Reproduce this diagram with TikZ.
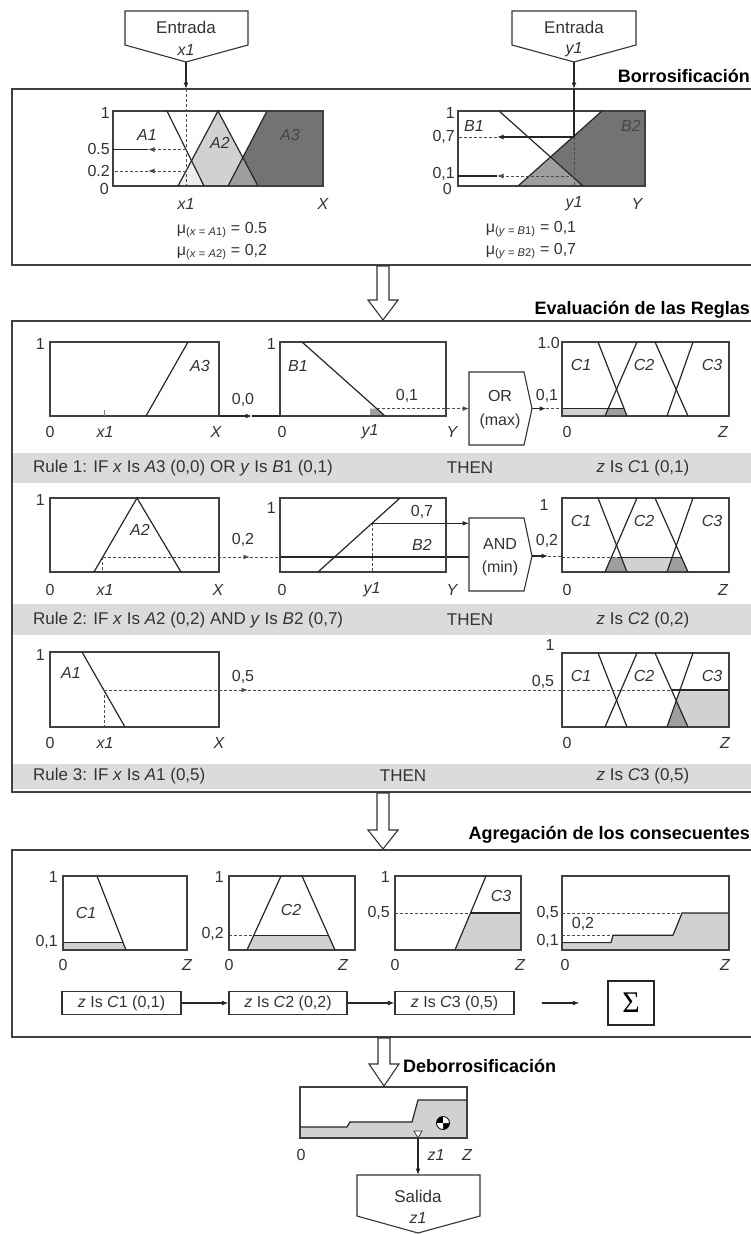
\documentclass[tikz,border=0pt]{standalone}
\usepackage{fontspec}
\setmainfont{Liberation Sans}
\newfontfamily\sigmafont{Liberation Serif}
\usepackage{tikz}
\usetikzlibrary{arrows.meta,positioning}
\definecolor{lightfill}{gray}{0.82}
\definecolor{palefill}{gray}{0.93}
\definecolor{midfill}{gray}{0.62}
\definecolor{darkfill}{gray}{0.45}
\definecolor{bandfill}{gray}{0.86}
\definecolor{ink}{gray}{0.2}

\begin{document}
\begin{tikzpicture}[x=1pt, y=-1pt,
    >={Latex[length=6.5pt,width=5pt]},
    lbl/.style ={font=\fontsize{16}{18}\selectfont, text=ink, inner sep=0pt},
    ilbl/.style={font=\fontsize{16}{18}\selectfont\itshape, text=ink, inner sep=0pt},
    rtxt/.style={font=\fontsize{17}{19}\selectfont, text=ink, inner sep=0pt},
    ttl/.style ={font=\fontsize{18}{20}\selectfont\bfseries, inner sep=0pt},
    panel/.style={draw=black!75, line width=1.3pt},
    gframe/.style={draw=black!75, line width=1.2pt},
    mline/.style={draw=black!85, line width=1.2pt},
    dline/.style={draw=black!70, line width=1pt, dash pattern=on 3pt off 2pt},
    flow/.style={draw=black!85, line width=1.2pt},
    shapeln/.style={draw=black!80, line width=1.1pt, fill=white},
    bigarrow/.style={draw=black!80, line width=1.1pt, fill=white},
    ruleband/.style={fill=bandfill},
    aggbox/.style={draw=black!80, line width=1.1pt, font=\fontsize{16}{18}\selectfont,
                   text=ink, minimum height=23pt, inner sep=0pt},
    sumbox/.style={draw=black!85, line width=1.2pt, minimum width=46pt, minimum height=44pt,
                   inner sep=0pt, font=\sigmafont\fontsize{30}{30}\selectfont}
]
\useasboundingbox (0,0) rectangle (751,1234);

% ---------- inputs ----------
\draw[shapeln] (125,11) -- (248,11) -- (248,45) -- (186,62) -- (125,45) -- cycle;
\node[rtxt] (entx)  at (186,27) {Entrada};
\node[ilbl] (entxv) at (186,50) {x1};
\coordinate (entxtip) at (186,62);
\coordinate (xtop) at (186,89);

\draw[shapeln] (512,11) -- (636,11) -- (636,45) -- (574,62) -- (512,45) -- cycle;
\node[rtxt] (enty)  at (574,27) {Entrada};
\node[ilbl] (entyv) at (574,50) {y1};
\coordinate (entytip) at (574,62);
\coordinate (ytop) at (574,89);

% ---------- Borrosificacion ----------
\draw[panel] (751,89) -- (12,89) -- (12,265) -- (751,265);
\node[ttl, anchor=base east] (t-fuzz) at (750,82) {Borrosificación};

% x fuzzy sets
\fill[lightfill] (178,186) -- (218,111) -- (258,186) -- cycle;
\fill[palefill]  (178,186) -- (191.5,160.7) -- (204,186) -- cycle;
\fill[darkfill]  (228,186) -- (267,111) -- (323,111) -- (323,186) -- cycle;
\fill[midfill]   (228,186) -- (242.8,157.5) -- (258,186) -- cycle;
\draw[gframe] (113,111) rectangle (323,186);
\draw[mline] (167,111) -- (204,186);
\draw[mline] (178,186) -- (218,111) -- (258,186);
\draw[mline] (228,186) -- (267,111);
\node[ilbl] (la1) at (147,135) {A1};
\node[ilbl] (la2) at (220,143) {A2};
\node[ilbl, text=black!72] (la3) at (290,135) {A3};
\node[lbl, anchor=east] (xone)  at (110,113) {1};
\node[lbl, anchor=east] (xhalf) at (110,149) {0.5};
\node[lbl, anchor=east] (xtwo)  at (110,171) {0.2};
\node[lbl, anchor=east] (xzero) at (109,189) {0};
\node[ilbl] (xx1) at (186,204) {x1};
\node[ilbl] (xX)  at (323,204) {X};

\coordinate (xa1) at (186,149.5);
\coordinate (xa2) at (186,171);
\coordinate (xbase) at (186,186);
\coordinate (xa1m) at (148,149.5);
\coordinate (xa2m) at (148,171);
\coordinate (xa1e) at (113,149.5);
\coordinate (xa2e) at (113,171);
\draw[flow,->] (entxtip) -- (xtop);
\draw[dline] (xtop) -- (xbase);
\draw[dline,->] (xa1) -- (xa1m);
\draw[flow] (xa1m) -- (xa1e);
\draw[dline,->] (xa2) -- (xa2m);
\draw[dline] (xa2m) -- (xa2e);

\node[lbl] (mux1) at (222,230) {μ\textsubscript{(\textit{x} = \textit{A}1)} = 0.5};
\node[lbl] (mux2) at (222,252) {μ\textsubscript{(\textit{x} = \textit{A}2)} = 0,2};

% y fuzzy sets
\fill[darkfill] (518,186) -- (602,111) -- (645,111) -- (645,186) -- cycle;
\fill[midfill]  (518,186) -- (550.5,157) -- (583,186) -- cycle;
\draw[gframe] (458,111) rectangle (645,186);
\draw[mline] (499,111) -- (583,186);
\draw[mline] (518,186) -- (602,111);
\node[ilbl] (lb1) at (474,126) {B1};
\node[ilbl, text=black!72] (lb2) at (631,126) {B2};
\node[lbl, anchor=east] (yone)   at (455,113) {1};
\node[lbl, anchor=east] (yseven) at (455,137) {0,7};
\node[lbl, anchor=east] (ytenth) at (455,174) {0,1};
\node[lbl, anchor=east] (yzero)  at (452,189) {0};
\node[ilbl] (yy1) at (574,204) {y1};
\node[ilbl] (yY)  at (637,204) {Y};

\coordinate (yb2) at (574,137);
\coordinate (yb1) at (574,176);
\coordinate (ybase) at (574,186);
\coordinate (yb2m) at (497,137);
\coordinate (yb1m) at (497,176);
\coordinate (yb2e) at (458,137);
\coordinate (yb1e) at (458,176);
\draw[flow,->] (entytip) -- (ytop);
\draw[flow] (ytop) -- (yb2);
\draw[dline] (yb2) -- (ybase);
\draw[flow,->] (yb2) -- (yb2m);
\draw[dline] (yb2m) -- (yb2e);
\draw[dline,->] (yb1) -- (yb1m);
\draw[flow] (yb1m) -- (yb1e);

\node[lbl] (muy1) at (531,229) {μ\textsubscript{(\textit{y} = \textit{B}1)} = 0,1};
\node[lbl] (muy2) at (531,251) {μ\textsubscript{(\textit{y} = \textit{B}2)} = 0,7};

\draw[bigarrow] (377,266) -- (389,266) -- (389,300) -- (398,300) -- (383,320) -- (368,300) -- (377,300) -- cycle;

% ---------- Evaluacion de las Reglas ----------
\draw[panel] (751,321) -- (12,321) -- (12,792) -- (751,792);
\node[ttl, anchor=base east] (t-rules) at (750,314) {Evaluación de las Reglas};

\fill[ruleband] (13,453) rectangle (751,483);
\fill[ruleband] (13,604) rectangle (751,635);
\fill[ruleband] (13,764) rectangle (751,789);
\node[rtxt, anchor=west] (r1if)   at (33,468) {Rule 1: IF \textit{x} Is \textit{A}3 (0,0) OR \textit{y} Is \textit{B}1 (0,1)};
\node[rtxt]              (r1then) at (470,468) {THEN};
\node[rtxt]              (r1z)    at (643,468) {\textit{z} Is \textit{C}1 (0,1)};
\node[rtxt, anchor=west] (r2if)   at (33,620) {Rule 2: IF \textit{x} Is \textit{A}2 (0,2) AND \textit{y} Is \textit{B}2 (0,7)};
\node[rtxt]              (r2then) at (470,620) {THEN};
\node[rtxt]              (r2z)    at (643,620) {\textit{z} Is \textit{C}2 (0,2)};
\node[rtxt, anchor=west] (r3if)   at (33,776) {Rule 3: IF \textit{x} Is \textit{A}1 (0,5)};
\node[rtxt]              (r3then) at (403,776) {THEN};
\node[rtxt]              (r3z)    at (643,776) {\textit{z} Is \textit{C}3 (0,5)};

% rule 1
\draw[gframe] (50,342) rectangle (219,416);
\draw[mline] (146,416) -- (188,342);
\draw[black!50, line width=0.8pt] (104,416) -- (104,410);
\node[ilbl] (r1a3) at (200,366) {A3};
\node[lbl, anchor=east] (r1a1) at (45,344) {1};
\node[lbl] (r1a0) at (50,432) {0};
\node[ilbl] (r1ax) at (105,432) {x1};
\node[ilbl] (r1aX) at (216,432) {X};
\coordinate (a3out) at (219,416);
\coordinate (a3mid) at (252,416);
\coordinate (b1in) at (280,416);
\draw[flow,->] (a3out) -- (a3mid);
\draw[flow] (a3mid) -- (b1in);
\node[lbl] (r1v0) at (243,400) {0,0};

\fill[midfill] (370,416) -- (370,408.6) -- (377,408.6) -- (385,416) -- cycle;
\draw[gframe] (280,342) rectangle (446,416);
\draw[mline] (302,342) -- (385,416);
\node[ilbl] (r1b1) at (298,366) {B1};
\node[lbl, anchor=east] (r1b1v) at (276,344) {1};
\node[lbl] (r1b0) at (282,432) {0};
\node[ilbl] (r1by) at (370,432) {y1};
\node[ilbl] (r1bY) at (452,432) {Y};

\draw[shapeln] (469,372) -- (524,372) -- (532,408.6) -- (524,445) -- (469,445) -- cycle;
\node[lbl] (orop)  at (500,396) {OR};
\node[lbl] (ormax) at (500,421) {(max)};
\coordinate (b1cut) at (377,408.6);
\coordinate (orin) at (469,408.6);
\coordinate (orout) at (532,408.6);
\coordinate (c1in) at (562,408.6);
\coordinate (c1mid) at (546,408.6);
\draw[dline,->] (b1cut) -- (orin);
\node[lbl] (r1v1) at (407,396) {0,1};
\draw[flow,->] (orout) -- (c1mid);
\draw[dline] (c1mid) -- (c1in);
\node[lbl] (r1v2) at (547,396) {0,1};

\fill[lightfill] (562,416) -- (562,408.6) -- (624.1,408.6) -- (627,416) -- cycle;
\fill[midfill] (605,416) -- (608.2,408.6) -- (624.1,408.6) -- (627,416) -- cycle;
\draw[flow] (c1in) -- (624.1,408.6);
\draw[gframe] (562,342) rectangle (729,416);
\draw[mline] (598,342) -- (627,416);
\draw[mline] (605,416) -- (637,342);
\draw[mline] (655,342) -- (688,416);
\draw[mline] (667,416) -- (693,342);
\node[ilbl] (r1c1) at (581,365) {C1};
\node[ilbl] (r1c2) at (644,365) {C2};
\node[ilbl] (r1c3) at (712,365) {C3};
\node[lbl, anchor=east] (r1cv) at (560,343) {1.0};
\node[lbl] (r1c0) at (567,432) {0};
\node[ilbl] (r1cZ) at (723,432) {Z};

% rule 2
\draw[gframe] (50,498) rectangle (219,572);
\draw[mline] (94,572) -- (137,498) -- (181,572);
\node[ilbl] (r2a2) at (140,530) {A2};
\node[lbl, anchor=east] (r2a1) at (45,500) {1};
\node[lbl] (r2a0) at (50,590) {0};
\node[ilbl] (r2ax) at (105,590) {x1};
\node[ilbl] (r2aX) at (218,590) {X};
\coordinate (a2cut) at (102.6,557);
\coordinate (a2base) at (102.6,572);
\coordinate (a2mid) at (250,557);
\coordinate (b2in) at (280,557);
\coordinate (andin2) at (469,557);
\draw[dline] (a2cut) -- (a2base);
\draw[dline,->] (a2cut) -- (a2mid);
\draw[dline] (a2mid) -- (b2in);
\draw[flow] (b2in) -- (andin2);
\node[lbl] (r2v0) at (243,540) {0,2};

\draw[gframe] (280,498) rectangle (446,572);
\draw[mline] (318,572) -- (400,498);
\node[ilbl] (r2b2) at (422,545) {B2};
\node[lbl, anchor=east] (r2b1v) at (276,508) {1};
\node[lbl] (r2b0) at (282,590) {0};
\node[ilbl] (r2by) at (372,590) {y1};
\node[ilbl] (r2bY) at (452,590) {Y};
\coordinate (b2cut) at (372,523.3);
\coordinate (b2base) at (372,572);
\coordinate (andin1) at (469,523.3);
\draw[dline] (b2cut) -- (b2base);
\draw[flow,->] (b2cut) -- (andin1);
\node[lbl] (r2v1) at (422,512) {0,7};

\draw[shapeln] (469,518) -- (524,518) -- (532,556) -- (524,591) -- (469,591) -- cycle;
\node[lbl] (andop)  at (500,544) {AND};
\node[lbl] (andmin) at (500,568) {(min)};
\coordinate (andout) at (532,556);
\coordinate (c2mid) at (548,556);
\coordinate (c2in) at (562,556);
\draw[flow,->] (andout) -- (c2mid);
\draw[dline] (c2mid) -- (c2in);
\node[lbl] (r2v2) at (547,541) {0,2};

\begin{scope}[shift={(0,156)}]
\fill[lightfill] (605,416) -- (611.4,401.2) -- (681.4,401.2) -- (688,416) -- cycle;
\fill[midfill] (605,416) -- (611.4,401.2) -- (621.2,401.2) -- (627,416) -- cycle;
\fill[midfill] (667,416) -- (672.2,401.2) -- (681.4,401.2) -- (688,416) -- cycle;
\draw[dline] (562,401.2) -- (618,401.2);
\draw[flow] (618,401.2) -- (681.4,401.2);
\draw[gframe] (562,342) rectangle (729,416);
\draw[mline] (598,342) -- (627,416);
\draw[mline] (605,416) -- (637,342);
\draw[mline] (655,342) -- (688,416);
\draw[mline] (667,416) -- (693,342);
\node[ilbl] (r2c1) at (581,365) {C1};
\node[ilbl] (r2c2) at (644,365) {C2};
\node[ilbl] (r2c3) at (712,365) {C3};
\end{scope}
\node[lbl] (r2cv) at (544,505) {1};
\node[lbl] (r2c0) at (567,590) {0};
\node[ilbl] (r2cZ) at (723,590) {Z};

% rule 3
\draw[gframe] (50,652) rectangle (219,727);
\draw[mline] (82,652) -- (125,727);
\node[ilbl] (r3a1) at (71,673) {A1};
\node[lbl, anchor=east] (r3a1v) at (45,655) {1};
\node[lbl] (r3a0) at (50,743) {0};
\node[ilbl] (r3ax) at (105,743) {x1};
\node[ilbl] (r3aX) at (219,743) {X};
\coordinate (a1cut) at (104,690);
\coordinate (a1base) at (104,727);
\coordinate (a1mid) at (248,690);
\coordinate (c3in) at (562,690);
\draw[dline] (a1cut) -- (a1base);
\draw[dline,->] (a1cut) -- (a1mid);
\draw[dline] (a1mid) -- (c3in);
\node[lbl] (r3v0) at (243,677) {0,5};

\begin{scope}[shift={(0,311)}]
\fill[lightfill] (667,416) -- (680,379) -- (729,379) -- (729,416) -- cycle;
\fill[midfill] (667,416) -- (676.2,389.7) -- (688,416) -- cycle;
\draw[dline] (562,379) -- (672,379);
\draw[flow] (672,379) -- (729,379);
\draw[gframe] (562,342) rectangle (729,416);
\draw[mline] (598,342) -- (627,416);
\draw[mline] (605,416) -- (637,342);
\draw[mline] (655,342) -- (688,416);
\draw[mline] (667,416) -- (693,342);
\node[ilbl] (r3c1) at (581,365) {C1};
\node[ilbl] (r3c2) at (644,365) {C2};
\node[ilbl] (r3c3) at (712,365) {C3};
\end{scope}
\node[lbl] (r3cv) at (550,645) {1};
\node[lbl] (r3ch) at (543,682) {0,5};
\node[lbl] (r3c0) at (567,743) {0};
\node[ilbl] (r3cZ) at (725,743) {Z};

\draw[bigarrow] (377,793) -- (389,793) -- (389,830) -- (398,830) -- (383,849) -- (368,830) -- (377,830) -- cycle;

% ---------- Agregacion ----------
\draw[panel] (751,850) -- (12,850) -- (12,1037) -- (751,1037);
\node[ttl, anchor=base east] (t-agg) at (750,839) {Agregación de los consecuentes};

% C1 cut
\fill[lightfill] (63,950) -- (63,942.6) -- (123.1,942.6) -- (126,950) -- cycle;
\draw[flow] (63,942.6) -- (123.1,942.6);
\draw[gframe] (63,876) rectangle (187,950);
\draw[mline] (97,876) -- (126,950);
\node[ilbl] (g1c) at (86,913) {C1};
\node[lbl, anchor=east] (g1one) at (58,877) {1};
\node[lbl, anchor=east] (g1lev) at (58,942) {0,1};
\node[lbl] (g1zero) at (63,965) {0};
\node[ilbl] (g1Z) at (187,965) {Z};

% C2 cut
\fill[lightfill] (247,950) -- (253.8,935.2) -- (328.4,935.2) -- (335,950) -- cycle;
\draw[dline] (229,935.2) -- (253.8,935.2);
\draw[flow] (253.8,935.2) -- (328.4,935.2);
\draw[gframe] (229,876) rectangle (355,950);
\draw[mline] (247,950) -- (281,876);
\draw[mline] (302,876) -- (335,950);
\node[ilbl] (g2c) at (291,910) {C2};
\node[lbl, anchor=east] (g2one) at (224,877) {1};
\node[lbl, anchor=east] (g2lev) at (224,934) {0,2};
\node[lbl] (g2zero) at (229,965) {0};
\node[ilbl] (g2Z) at (343,965) {Z};

% C3 cut
\fill[lightfill] (455,950) -- (470.5,913) -- (521,913) -- (521,950) -- cycle;
\draw[dline] (395,913) -- (470.5,913);
\draw[flow] (470.5,913) -- (521,913);
\draw[gframe] (395,876) rectangle (521,950);
\draw[mline] (455,950) -- (486,876);
\node[ilbl] (g3c) at (501,896) {C3};
\node[lbl, anchor=east] (g3one) at (390,877) {1};
\node[lbl, anchor=east] (g3lev) at (390,913) {0,5};
\node[lbl] (g3zero) at (395,965) {0};
\node[ilbl] (g3Z) at (520,965) {Z};

% aggregate
\fill[lightfill] (562,950) -- (562,942.6) -- (611,942.6) -- (613,935.2) -- (673,935.2) -- (682,913) -- (729,913) -- (729,950) -- cycle;
\draw[dline] (562,913) -- (682,913);
\draw[dline] (562,935.2) -- (613,935.2);
\draw[flow] (562,942.6) -- (611,942.6) -- (613,935.2) -- (673,935.2) -- (682,913) -- (729,913);
\draw[gframe] (562,876) rectangle (729,950);
\node[lbl, anchor=east] (g4half) at (559,913) {0,5};
\node[lbl, anchor=east] (g4lev) at (559,941) {0,1};
\node[lbl] (g4two) at (583,924) {0,2};
\node[lbl] (g4zero) at (565,965) {0};
\node[ilbl] (g4Z) at (725,965) {Z};

\node[aggbox, minimum width=119pt] (agg1) at (121.5,1003) {\textit{z} Is \textit{C}1 (0,1)};
\node[aggbox, minimum width=118pt] (agg2) at (288,1003) {\textit{z} Is \textit{C}2 (0,2)};
\node[aggbox, minimum width=119pt] (agg3) at (454.5,1003) {\textit{z} Is \textit{C}3 (0,5)};
\node[sumbox] (sum) at (631,1003) {Σ};
\draw[flow,->] (agg1) -- (agg2);
\draw[flow,->] (agg2) -- (agg3);
\draw[flow,->] ([xshift=27pt]agg3.east) -- ([xshift=-28pt]sum.west);

\draw[bigarrow] (378,1038) -- (390,1038) -- (390,1064) -- (399,1064) -- (384,1086) -- (369,1064) -- (378,1064) -- cycle;
\node[ttl, anchor=base west] (t-defuzz) at (403,1072) {Deborrosificación};

% ---------- Deborrosificacion ----------
\fill[lightfill] (300,1138) -- (300,1127) -- (347,1127) -- (350,1122) -- (412,1122) -- (418,1100) -- (467,1100) -- (467,1138) -- cycle;
\draw[flow] (300,1127) -- (347,1127) -- (350,1122) -- (412,1122) -- (418,1100) -- (467,1100);
\draw[gframe] (300,1087) rectangle (467,1138);
\fill[black] (443,1123) circle (6.5pt);
\fill[white] (443,1123) -- (449.5,1123) arc[start angle=0, end angle=90, radius=6.5pt] -- cycle;
\fill[white] (443,1123) -- (436.5,1123) arc[start angle=180, end angle=270, radius=6.5pt] -- cycle;
\draw[black, line width=0.8pt] (443,1123) circle (6.5pt);
\draw[black!80, line width=0.8pt, fill=white] (414,1131) -- (422,1131) -- (418,1138) -- cycle;
\node[lbl] (dz0) at (301,1155) {0};
\node[ilbl] (dz1) at (436,1155) {z1};
\node[ilbl] (dzZ) at (467,1155) {Z};
\coordinate (zcent) at (418,1138);
\coordinate (outtop) at (418,1175);
\draw[flow,->] (zcent) -- (outtop);

\draw[shapeln] (357,1175) -- (480,1175) -- (480,1216) -- (418,1233) -- (357,1216) -- cycle;
\node[rtxt] (outz)  at (418,1196) {Salida};
\node[ilbl] (outzv) at (418,1218) {z1};
\end{tikzpicture}
\end{document}
